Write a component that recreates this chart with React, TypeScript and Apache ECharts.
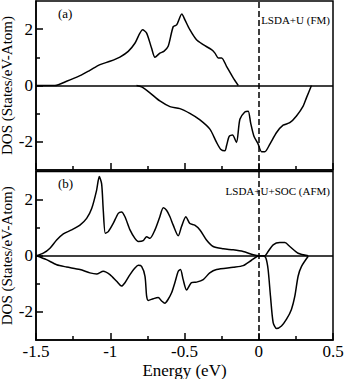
import React, { useEffect, useRef } from "react";
import * as echarts from "echarts";

// Panel (a): LSDA+U (FM)
const aUpE = [-1.5, -1.372, -1.294, -1.204, -1.137, -1.069, -1.002, -0.935, -0.879, -0.834, -0.782, -0.755, -0.722, -0.699, -0.666, -0.639, -0.61, -0.576, -0.553, -0.518, -0.497, -0.464, -0.419, -0.374, -0.318, -0.295, -0.273, -0.25, -0.217, -0.172, -0.138];
const aUpD = [0, 0, 0.15, 0.35, 0.54, 0.74, 0.86, 1.01, 1.21, 1.5, 1.98, 1.86, 1.33, 1.0, 1.15, 1.21, 1.39, 2.09, 2.15, 2.54, 2.33, 1.98, 1.62, 1.45, 1.27, 1.15, 0.98, 0.98, 0.68, 0.27, 0];
const aDnE = [-0.823, -0.789, -0.733, -0.666, -0.598, -0.531, -0.464, -0.396, -0.329, -0.284, -0.257, -0.228, -0.217, -0.199, -0.177, -0.15, -0.127, -0.094, -0.071, -0.055, -0.033, -0.004, 0.019, 0.041, 0.075, 0.12, 0.164, 0.209, 0.254, 0.299, 0.321, 0.355];
const aDnD = [0, -0.05, -0.26, -0.55, -0.75, -0.82, -0.99, -1.22, -1.55, -2.02, -2.26, -2.32, -2.14, -1.81, -1.76, -2.02, -1.2, -0.94, -0.91, -1.32, -1.79, -2.08, -2.35, -2.35, -2.08, -1.67, -1.41, -1.32, -1.08, -0.73, -0.44, 0];

// Panel (b): LSDA+U+SOC (AFM)
const bUpE = [-1.496, -1.451, -1.406, -1.361, -1.316, -1.26, -1.204, -1.159, -1.125, -1.092, -1.074, -1.058, -1.047, -1.033, -1.013, -0.98, -0.946, -0.924, -0.901, -0.867, -0.834, -0.811, -0.778, -0.755, -0.733, -0.699, -0.666, -0.643, -0.621, -0.598, -0.576, -0.542, -0.52, -0.491, -0.464, -0.431, -0.396, -0.352, -0.307, -0.239, -0.172, -0.105, -0.037, 0.003, 0.041, 0.063, 0.097, 0.142, 0.176, 0.209, 0.265, 0.333];
const bUpD = [0, 0.09, 0.27, 0.56, 0.78, 0.92, 1.09, 1.33, 1.68, 2.33, 2.82, 2.56, 1.62, 0.8, 0.86, 1.15, 1.51, 1.56, 1.39, 0.92, 0.62, 0.51, 0.54, 0.68, 0.62, 0.92, 1.39, 1.71, 1.62, 1.39, 1.09, 0.71, 1.04, 1.39, 1.15, 1.09, 0.92, 0.56, 0.33, 0.25, 0.21, 0.15, 0.035, 0, 0, 0.15, 0.39, 0.47, 0.47, 0.33, 0.09, 0];
const bDnE = [-1.496, -1.429, -1.361, -1.294, -1.204, -1.137, -1.092, -1.047, -1.002, -0.957, -0.924, -0.901, -0.867, -0.834, -0.811, -0.789, -0.766, -0.755, -0.744, -0.71, -0.677, -0.654, -0.632, -0.61, -0.587, -0.565, -0.542, -0.527, -0.509, -0.486, -0.453, -0.419, -0.374, -0.33, -0.284, -0.172, -0.105, -0.049, 0.003, 0.03, 0.048, 0.063, 0.079, 0.097, 0.12, 0.153, 0.187, 0.22, 0.243, 0.265, 0.288, 0.333];
const bDnD = [0, -0.14, -0.32, -0.4, -0.49, -0.61, -0.65, -0.55, -0.67, -0.91, -1.08, -0.96, -0.67, -0.44, -0.34, -0.38, -0.73, -1.44, -1.59, -1.53, -1.49, -1.61, -1.69, -1.55, -1.32, -0.96, -0.55, -0.49, -0.85, -1.22, -0.96, -0.94, -0.85, -0.61, -0.49, -0.41, -0.35, -0.16, 0, 0, -0.08, -0.49, -1.44, -2.38, -2.59, -2.5, -2.26, -1.91, -1.44, -0.73, -0.38, -0.02];

const xTicks = [-1.5, -1, -0.5, 0, 0.5];
const yMajor = [-2, 0, 2];
const yMinor = [-1, 1];
const panelLabels = ["(a)", "(b)"];
const panelTitles = ["LSDA+U (FM)", "LSDA+U+SOC (AFM)"];

const FONT = "'Liberation Serif', 'Times New Roman', serif";
const zip = (e: number[], d: number[]) => e.map((v, i) => [v, d[i]]);

export default function App() {
  const ref = useRef<HTMLDivElement>(null);
  useEffect(() => {
    if (!ref.current) return;
    const chart = echarts.init(ref.current, null, { renderer: "svg" });
    const grids = [
      { left: 36, top: 1, width: 297, height: 169 },
      { left: 36, top: 171.5, width: 297, height: 168.5 },
    ];
    const xAxes: any[] = [0, 1].map((g) => ({
      type: "value",
      gridIndex: g,
      position: "bottom",
      min: -1.5,
      max: 0.5,
      interval: 0.5,
      name: g === 1 ? "Energy (eV)" : "",
      nameLocation: "middle",
      nameGap: 22,
      nameMoveOverlap: false,
      nameTextStyle: { fontFamily: FONT, fontSize: 17, color: "#000" },
      axisLine: { show: true, onZero: false, lineStyle: { color: "#000", width: 1.5 } },
      axisTick: { show: true, inside: true, length: 7, lineStyle: { color: "#000", width: 1.5 } },
      minorTick: { show: true, splitNumber: 2, length: 4, lineStyle: { color: "#000", width: 1.5 } },
      splitLine: { show: false },
      axisLabel: {
        show: g === 1,
        margin: 3,
        fontFamily: FONT,
        fontSize: 17,
        color: "#000",
        customValues: xTicks,
        formatter: (v: number) => String(v),
      },
    }));
    const yAxes: any[] = [];
    [0, 1].forEach((g) => {
      yAxes.push({
        type: "value",
        gridIndex: g,
        position: "left",
        min: -3,
        max: 3,
        name: "DOS (States/eV-Atom)",
        nameLocation: "middle",
        nameGap: 22,
        nameMoveOverlap: false,
        nameRotate: 90,
        nameTextStyle: { fontFamily: FONT, fontSize: 15, color: "#000" },
        axisLine: { show: true, onZero: false, lineStyle: { color: "#000", width: 1.5 } },
        axisTick: { show: true, inside: true, length: 7, customValues: yMajor, lineStyle: { color: "#000", width: 1.5 } },
        splitLine: { show: false },
        axisLabel: {
          margin: 3,
          fontFamily: FONT,
          fontSize: 17,
          color: "#000",
          customValues: yMajor,
          formatter: (v: number) => String(v),
        },
      });
      yAxes.push({
        type: "value",
        gridIndex: g,
        position: "left",
        offset: 0,
        min: -3,
        max: 3,
        axisLine: { show: false, onZero: false },
        axisTick: { show: true, inside: true, length: 4, customValues: yMinor, lineStyle: { color: "#000", width: 1.5 } },
        splitLine: { show: false },
        axisLabel: { show: false },
      });
    });
    const lineStyle = { color: "#000", width: 1.5 };
    const zeroMark = {
      silent: true,
      symbol: "none",
      label: { show: false },
      lineStyle: { color: "#000", width: 1.5, type: "solid" },
      data: [{ yAxis: 0 }],
    };
    const fermiMark = {
      silent: true,
      symbol: "none",
      label: { show: false },
      lineStyle: { color: "#000", width: 1.5, type: [6, 3] },
      data: [{ xAxis: 0 }],
    };
    const mkSeries = (data: number[][], g: number, mark: any) => ({
      type: "line",
      xAxisIndex: g,
      yAxisIndex: g * 2,
      data,
      showSymbol: false,
      smooth: 0.25,
      lineStyle,
      z: 3,
      markLine: mark,
    });
    const graphic: any[] = [];
    [0, 1].forEach((g) => {
      const top = grids[g].top;
      graphic.push({
        type: "text",
        x: 58,
        y: top + 12,
        style: { text: panelLabels[g], fontFamily: FONT, fontSize: 13, fill: "#000", verticalAlign: "middle" },
      });
      graphic.push({
        type: "text",
        x: 330,
        y: top + 19,
        style: { text: panelTitles[g], fontFamily: FONT, fontSize: 11, fill: "#000", align: "right", verticalAlign: "middle" },
      });
    });
    chart.setOption({
      animation: false,
      textStyle: { fontFamily: FONT },
      grid: grids.map((gr) => ({
        ...gr,
        outerBoundsMode: "none",
        containLabel: false,
        show: true,
        borderColor: "#000",
        borderWidth: 1.5,
        backgroundColor: "transparent",
      })),
      xAxis: xAxes,
      yAxis: yAxes,
      series: [
        mkSeries(zip(aUpE, aUpD), 0, zeroMark),
        mkSeries(zip(aDnE, aDnD), 0, fermiMark),
        mkSeries(zip(bUpE, bUpD), 1, zeroMark),
        mkSeries(zip(bDnE, bDnD), 1, fermiMark),
      ],
      graphic,
    });
    return () => chart.dispose();
  }, []);
  return <div ref={ref} style={{ position: "absolute", left: 0, top: 0, width: 346, height: 379, background: "#fff" }} />;
}
